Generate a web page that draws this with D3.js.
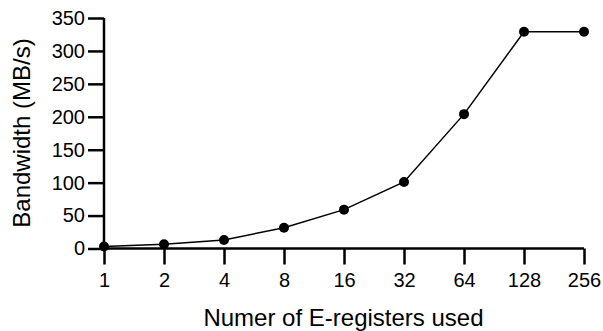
<!DOCTYPE html>
<html><head><meta charset="utf-8">
<script src="https://cdn.jsdelivr.net/npm/d3@7"></script>
<style>body{margin:0;background:#fff}svg{display:block}text{font-family:"Liberation Sans",Arial,sans-serif;fill:#000}</style>
</head><body>
<script>
const categories = ["1","2","4","8","16","32","64","128","256"];
const values = [3, 6.5, 13, 31.5, 59, 101, 204, 329, 329];
const yTicks = [0,50,100,150,200,250,300,350];

const W=603,H=331;
const svg=d3.select("body").append("svg").attr("width",W).attr("height",H);
const x=d3.scalePoint().domain(categories).range([104,584]);
const y=d3.scaleLinear().domain([0,350]).range([248.5,18]);

const gy=svg.append("g").attr("transform","translate(104,0)")
  .call(d3.axisLeft(y).tickValues(yTicks).tickSize(16).tickPadding(3));
const gx=svg.append("g").attr("transform","translate(0,248.5)")
  .call(d3.axisBottom(x).tickSize(16).tickPadding(8.5));
[gx,gy].forEach(g=>{
  g.attr("font-size",20).attr("font-family","Liberation Sans, Arial, sans-serif");
  g.select(".domain").attr("stroke","#000").attr("stroke-width",2.5);
  g.selectAll(".tick line").attr("stroke","#000").attr("stroke-width",2.5);
  g.selectAll(".tick text").attr("fill","#000");
});
gy.select(".domain").attr("d","M0,18V248.5");
gx.select(".domain").attr("d","M104,0H584");

const line=d3.line().x((d,i)=>x(categories[i])).y(d=>y(d));
svg.append("path").datum(values).attr("d",line).attr("fill","none").attr("stroke","#000").attr("stroke-width",1.5);
svg.selectAll("circle.pt").data(values).join("circle").attr("class","pt")
  .attr("cx",(d,i)=>x(categories[i])).attr("cy",d=>y(d)).attr("r",5).attr("fill","#000");

svg.append("text").attr("x",343.5).attr("y",325.5).attr("text-anchor","middle").attr("font-size",24).text("Numer of E-registers used");
svg.append("text").attr("transform","translate(29.5,133) rotate(-90)").attr("text-anchor","middle").attr("font-size",24).text("Bandwidth (MB/s)");
</script>
</body></html>
